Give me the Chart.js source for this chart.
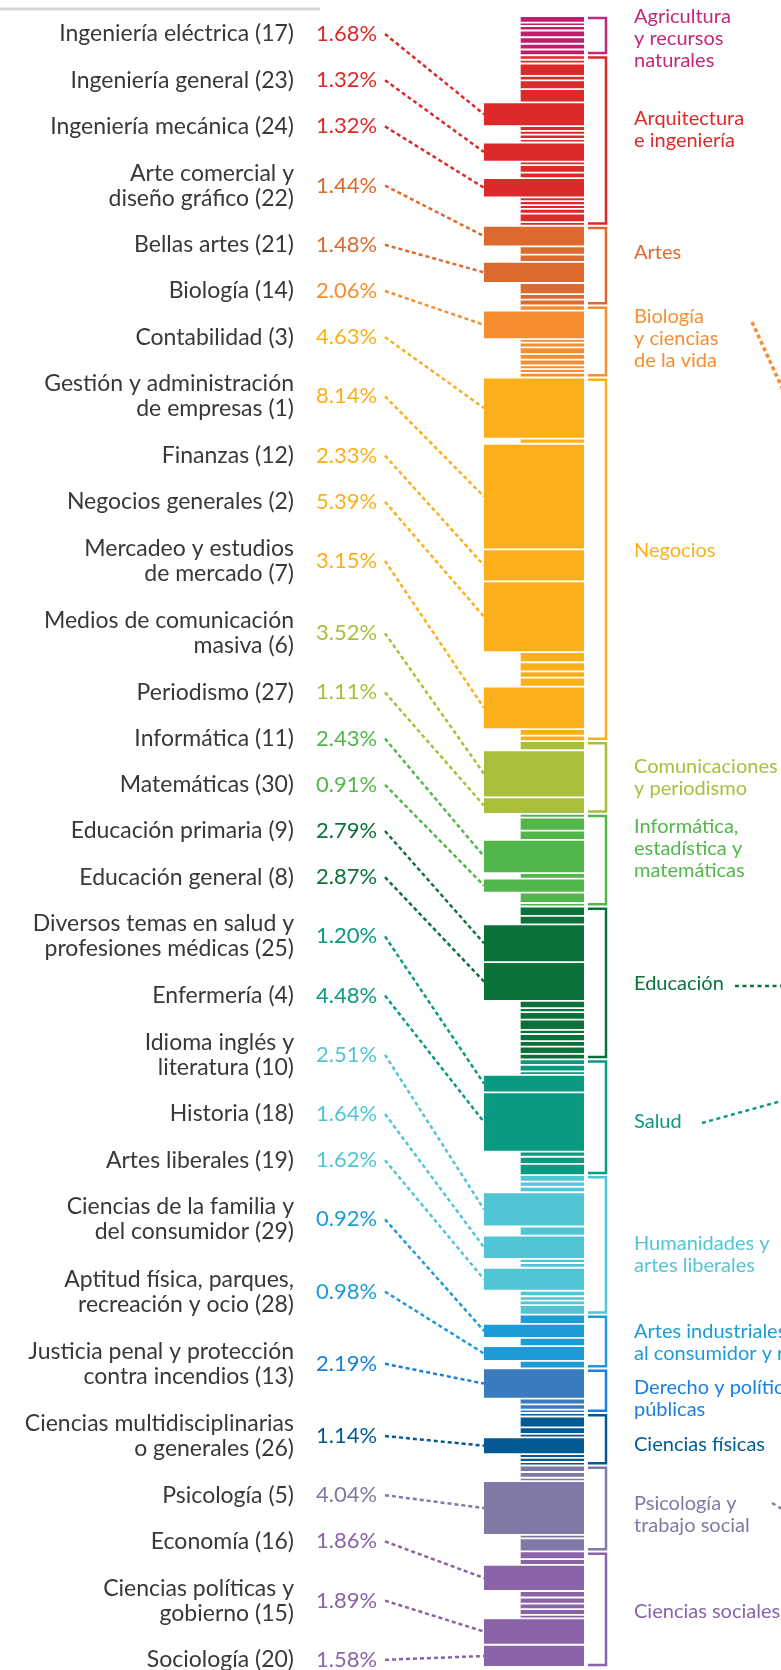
<!DOCTYPE html>
<html lang="es">
<head>
<meta charset="utf-8">
<title>Carreras por área de estudio</title>
<script src="https://cdn.jsdelivr.net/npm/chart.js@4.4.1/dist/chart.umd.min.js"></script>
<style>
  html, body { margin: 0; padding: 0; background: #fff; }
  #wrap { width: 781px; height: 1670px; overflow: hidden; }
</style>
</head>
<body>
<div id="wrap"><canvas id="carreras" width="781" height="1670"></canvas></div>
<script>
/* marca de posición: aquí va la siguiente carrera destacada */
const M = "destacada";

const areas = [
  "Agricultura\ny recursos\nnaturales",
  "Arquitectura\ne ingeniería",
  "Artes",
  "Biología\ny ciencias\nde la vida",
  "Negocios",
  "Comunicaciones\ny periodismo",
  "Informática,\nestadística y\nmatemáticas",
  "Educación",
  "Salud",
  "Humanidades y\nartes liberales",
  "Artes industriales,\nal consumidor y recreativas",
  "Derecho y políticas\npúblicas",
  "Ciencias físicas",
  "Psicología y\ntrabajo social",
  "Ciencias sociales"
];

// participación (%) de cada carrera, de arriba hacia abajo dentro de su área
const agricultura = [0.34, 0.08, 0.16, 0.34, 0.32, 0.26, 0.26];
const arquitectura = [0.16, 0.10, 0.79, 0.16, 0.50, 0.84, M, 0.18, 0.10, 0.16, 0.08, M, 0.08, 0.40, 0.24, M, 0.10, 0.13, 0.10, 0.18, 0.47, 0.10];
const artes = [M, 0.45, 0.37, M, 0.69, 0.24, 0.26];
const biologia = [0.21, M, 0.08, 0.18, 0.34, 0.24, 0.26, 0.10, 0.10, 0.18];
const negocios = [M, 0.21, M, M, M, 0.61, 0.53, 0.29, 0.53, M, 0.32, 0.24];
const comunicaciones = [0.53, M, M];
const informatica = [0.10, 0.84, 0.53, M, 0.24, M, 0.63, 0.08];
const educacion = [0.55, 0.47, M, M, 0.37, 0.13, 0.40, 0.61, 0.13, 0.37, 0.24, 0.37, 0.24];
const salud = [0.24, 0.32, 0.08, M, M, 0.21, 0.37, 0.69];
const humanidades = [0.32, 0.21, 0.24, M, 0.53, M, 0.13, 0.18, M, 0.24, 0.16, 0.16, 0.55];
const artesIndustriales = [0.53, M, 0.45, M, 0.40];
const derecho = [M, 0.26, 0.21, 0.08];
const fisicas = [0.08, 0.66, 0.32, 0.08, M, 0.10, 0.13, 0.08];
const psicologia = [0.32, 0.26, 0.08, M, 0.08, 0.84];
const sociales = [0.42, 0.26, M, 0.32, 0.29, 0.24, 0.26, 0.08, M, M];

const segmentosPorArea = [agricultura, arquitectura, artes, biologia, negocios, comunicaciones,
  informatica, educacion, salud, humanidades, artesIndustriales, derecho, fisicas, psicologia, sociales];

const carreras = [
  "Ingeniería eléctrica (17)",
  "Ingeniería general (23)",
  "Ingeniería mecánica (24)",
  "Arte comercial y\ndiseño gráfico (22)",
  "Bellas artes (21)",
  "Biología (14)",
  "Contabilidad (3)",
  "Gestión y administración\nde empresas (1)",
  "Finanzas (12)",
  "Negocios generales (2)",
  "Mercadeo y estudios\nde mercado (7)",
  "Medios de comunicación\nmasiva (6)",
  "Periodismo (27)",
  "Informática (11)",
  "Matemáticas (30)",
  "Educación primaria (9)",
  "Educación general (8)",
  "Diversos temas en salud y\nprofesiones médicas (25)",
  "Enfermería (4)",
  "Idioma inglés y\nliteratura (10)",
  "Historia (18)",
  "Artes liberales (19)",
  "Ciencias de la familia y\ndel consumidor (29)",
  "Aptitud física, parques,\nrecreación y ocio (28)",
  "Justicia penal y protección\ncontra incendios (13)",
  "Ciencias multidisciplinarias\no generales (26)",
  "Psicología (5)",
  "Economía (16)",
  "Ciencias políticas y\ngobierno (15)",
  "Sociología (20)"
];
const porcentajes = [1.68, 1.32, 1.32, 1.44, 1.48, 2.06, 4.63, 8.14, 2.33, 5.39, 3.15, 3.52, 1.11,
  2.43, 0.91, 2.79, 2.87, 1.20, 4.48, 2.51, 1.64, 1.62, 0.92, 0.98, 2.19, 1.14, 4.04, 1.86, 1.89, 1.58];

const areaColores = ["#bd1e6d", "#dc2a2a", "#dc6a2f", "#f68e31", "#fbb01b", "#a9bf3b", "#52b74a",
  "#0b713b", "#0a9981", "#52c5d5", "#1c9bd7", "#3a7bbf", "#035a92", "#7f7aa5", "#8b63a8"];
const areaTexto = ["#c0287a", "#dc2a2a", "#dc6a2f", "#f68e31", "#fbb01b", "#a9bf3b", "#52b74a",
  "#0b713b", "#0a9981", "#52c5d5", "#1c9bd7", "#1a80dc", "#035a92", "#7f7aa5", "#8b63a8"];
// corrimiento vertical (px) del nombre de cada área respecto al centro de su corchete
const areaAjuste = [3, -11, -13, -3, -9, 0, -12, 1, 4, 10, 1, 8, 5, 6, 2];

const FUENTE_NOMBRE = '23px Lato, "Open Sans", sans-serif';
const FUENTE_PCT = '22px Lato, "Open Sans", sans-serif';
const FUENTE_AREA = '20px Lato, "Open Sans", sans-serif';
const HUECO = 0.194;          // espacio blanco entre franjas, en unidades del eje
const X_ANCHA = 50, X_ANGOSTA = 68.5;

/* apilar franjas: cada una es una barra flotante [inicio, fin] */
const franjasAnchas = [], coloresAnchas = [];
const franjasAngostas = [], coloresAngostas = [];
const tramosArea = [];
const areaDeCarrera = [];
let pos = 0, sig = 0;
segmentosPorArea.forEach((segs, a) => {
  const inicio = pos;
  segs.forEach(v => {
    if (v === M) {
      const valor = porcentajes[sig];
      franjasAnchas.push({ x: X_ANCHA, y: [pos, pos + valor] });
      coloresAnchas.push(areaColores[a]);
      areaDeCarrera.push(a);
      sig++;
      pos += valor + HUECO;
    } else {
      franjasAngostas.push({ x: X_ANGOSTA, y: [pos, pos + v] });
      coloresAngostas.push(areaColores[a]);
      pos += v + HUECO;
    }
  });
  tramosArea.push([inicio, pos - HUECO]);
});
const totalEje = pos - HUECO;

/* trazos decorativos que salen hacia la derecha */
const conectores = [
  { color: areaTexto[3], ancho: 3.5, guion: [4, 3], de: [752, 322], a: [784, 392] },
  { color: areaTexto[7], ancho: 2.4, guion: [4, 3.5], de: [735, 986], a: [781, 986] },
  { color: areaTexto[8], ancho: 2.4, guion: [4, 3.5], de: [702, 1123], a: [785, 1100] },
  { color: areaTexto[13], ancho: 2.4, guion: [4, 3.5], de: [772, 1503], a: [782, 1509] }
];

const rotulos = {
  id: "rotulos",
  afterDatasetsDraw(chart) {
    const ctx = chart.ctx;
    const ys = chart.scales.y;
    const destacadas = chart.getDatasetMeta(1).data;
    ctx.save();

    ctx.strokeStyle = "#d6d6d6";
    ctx.lineWidth = 3;
    ctx.beginPath();
    ctx.moveTo(0, 9);
    ctx.lineTo(320, 9);
    ctx.stroke();

    ctx.textBaseline = "middle";

    // nombres, porcentajes y líneas punteadas
    let centro = 34, mitadPrev = 0;
    carreras.forEach((nombre, i) => {
      const lineas = nombre.split("\n");
      const mitad = lineas.length > 1 ? 36.1 : 23.1;
      if (i > 0) centro += mitadPrev + mitad;
      mitadPrev = mitad;

      ctx.font = FUENTE_NOMBRE;
      ctx.fillStyle = "#383838";
      ctx.textAlign = "right";
      lineas.forEach((l, j) => {
        ctx.fillText(l, 294, centro + (j - (lineas.length - 1) / 2) * 25);
      });

      const color = areaTexto[areaDeCarrera[i]];
      ctx.font = FUENTE_PCT;
      ctx.fillStyle = color;
      ctx.textAlign = "left";
      ctx.fillText(porcentajes[i].toFixed(2) + "%", 316, centro);

      const barra = destacadas[i];
      const yFin = (barra.y + barra.base) / 2;
      ctx.strokeStyle = color;
      ctx.lineWidth = 2.5;
      ctx.setLineDash([4, 3]);
      ctx.beginPath();
      ctx.moveTo(385, centro);
      ctx.lineTo(barra.x - barra.width / 2, yFin);
      ctx.stroke();
      ctx.setLineDash([]);
    });

    // corchetes y nombres de área
    ctx.font = FUENTE_AREA;
    areas.forEach((nombre, a) => {
      const arriba = ys.getPixelForValue(tramosArea[a][0]) + 1;
      const abajo = ys.getPixelForValue(tramosArea[a][1]) - 1;
      ctx.strokeStyle = areaTexto[a];
      ctx.lineWidth = 2.5;
      ctx.beginPath();
      ctx.moveTo(588, arriba);
      ctx.lineTo(606, arriba);
      ctx.lineTo(606, abajo);
      ctx.lineTo(588, abajo);
      ctx.stroke();

      const lineas = nombre.split("\n");
      const c = (arriba + abajo) / 2 + areaAjuste[a];
      ctx.fillStyle = areaTexto[a];
      ctx.textAlign = "left";
      lineas.forEach((l, j) => {
        ctx.fillText(l, 634, c + (j - (lineas.length - 1) / 2) * 22);
      });
    });

    conectores.forEach(c => {
      ctx.strokeStyle = c.color;
      ctx.lineWidth = c.ancho;
      ctx.setLineDash(c.guion);
      ctx.beginPath();
      ctx.moveTo(c.de[0], c.de[1]);
      ctx.lineTo(c.a[0], c.a[1]);
      ctx.stroke();
    });
    ctx.restore();
  }
};

new Chart(document.getElementById("carreras"), {
  type: "bar",
  data: {
    datasets: [
      {
        label: "Otras carreras",
        data: franjasAngostas,
        backgroundColor: coloresAngostas,
        barThickness: 63,
        grouped: false
      },
      {
        label: "Carreras destacadas",
        data: franjasAnchas,
        backgroundColor: coloresAnchas,
        barThickness: 100,
        grouped: false
      }
    ]
  },
  options: {
    responsive: false,
    animation: false,
    devicePixelRatio: 1,
    layout: { padding: { left: 484, right: 197, top: 17, bottom: 4 } },
    scales: {
      x: { type: "linear", min: 0, max: 100, display: false, offset: false },
      y: { type: "linear", min: 0, max: totalEje, reverse: true, display: false }
    },
    plugins: {
      legend: { display: false },
      tooltip: { enabled: false }
    }
  },
  plugins: [rotulos]
});
</script>
</body>
</html>
